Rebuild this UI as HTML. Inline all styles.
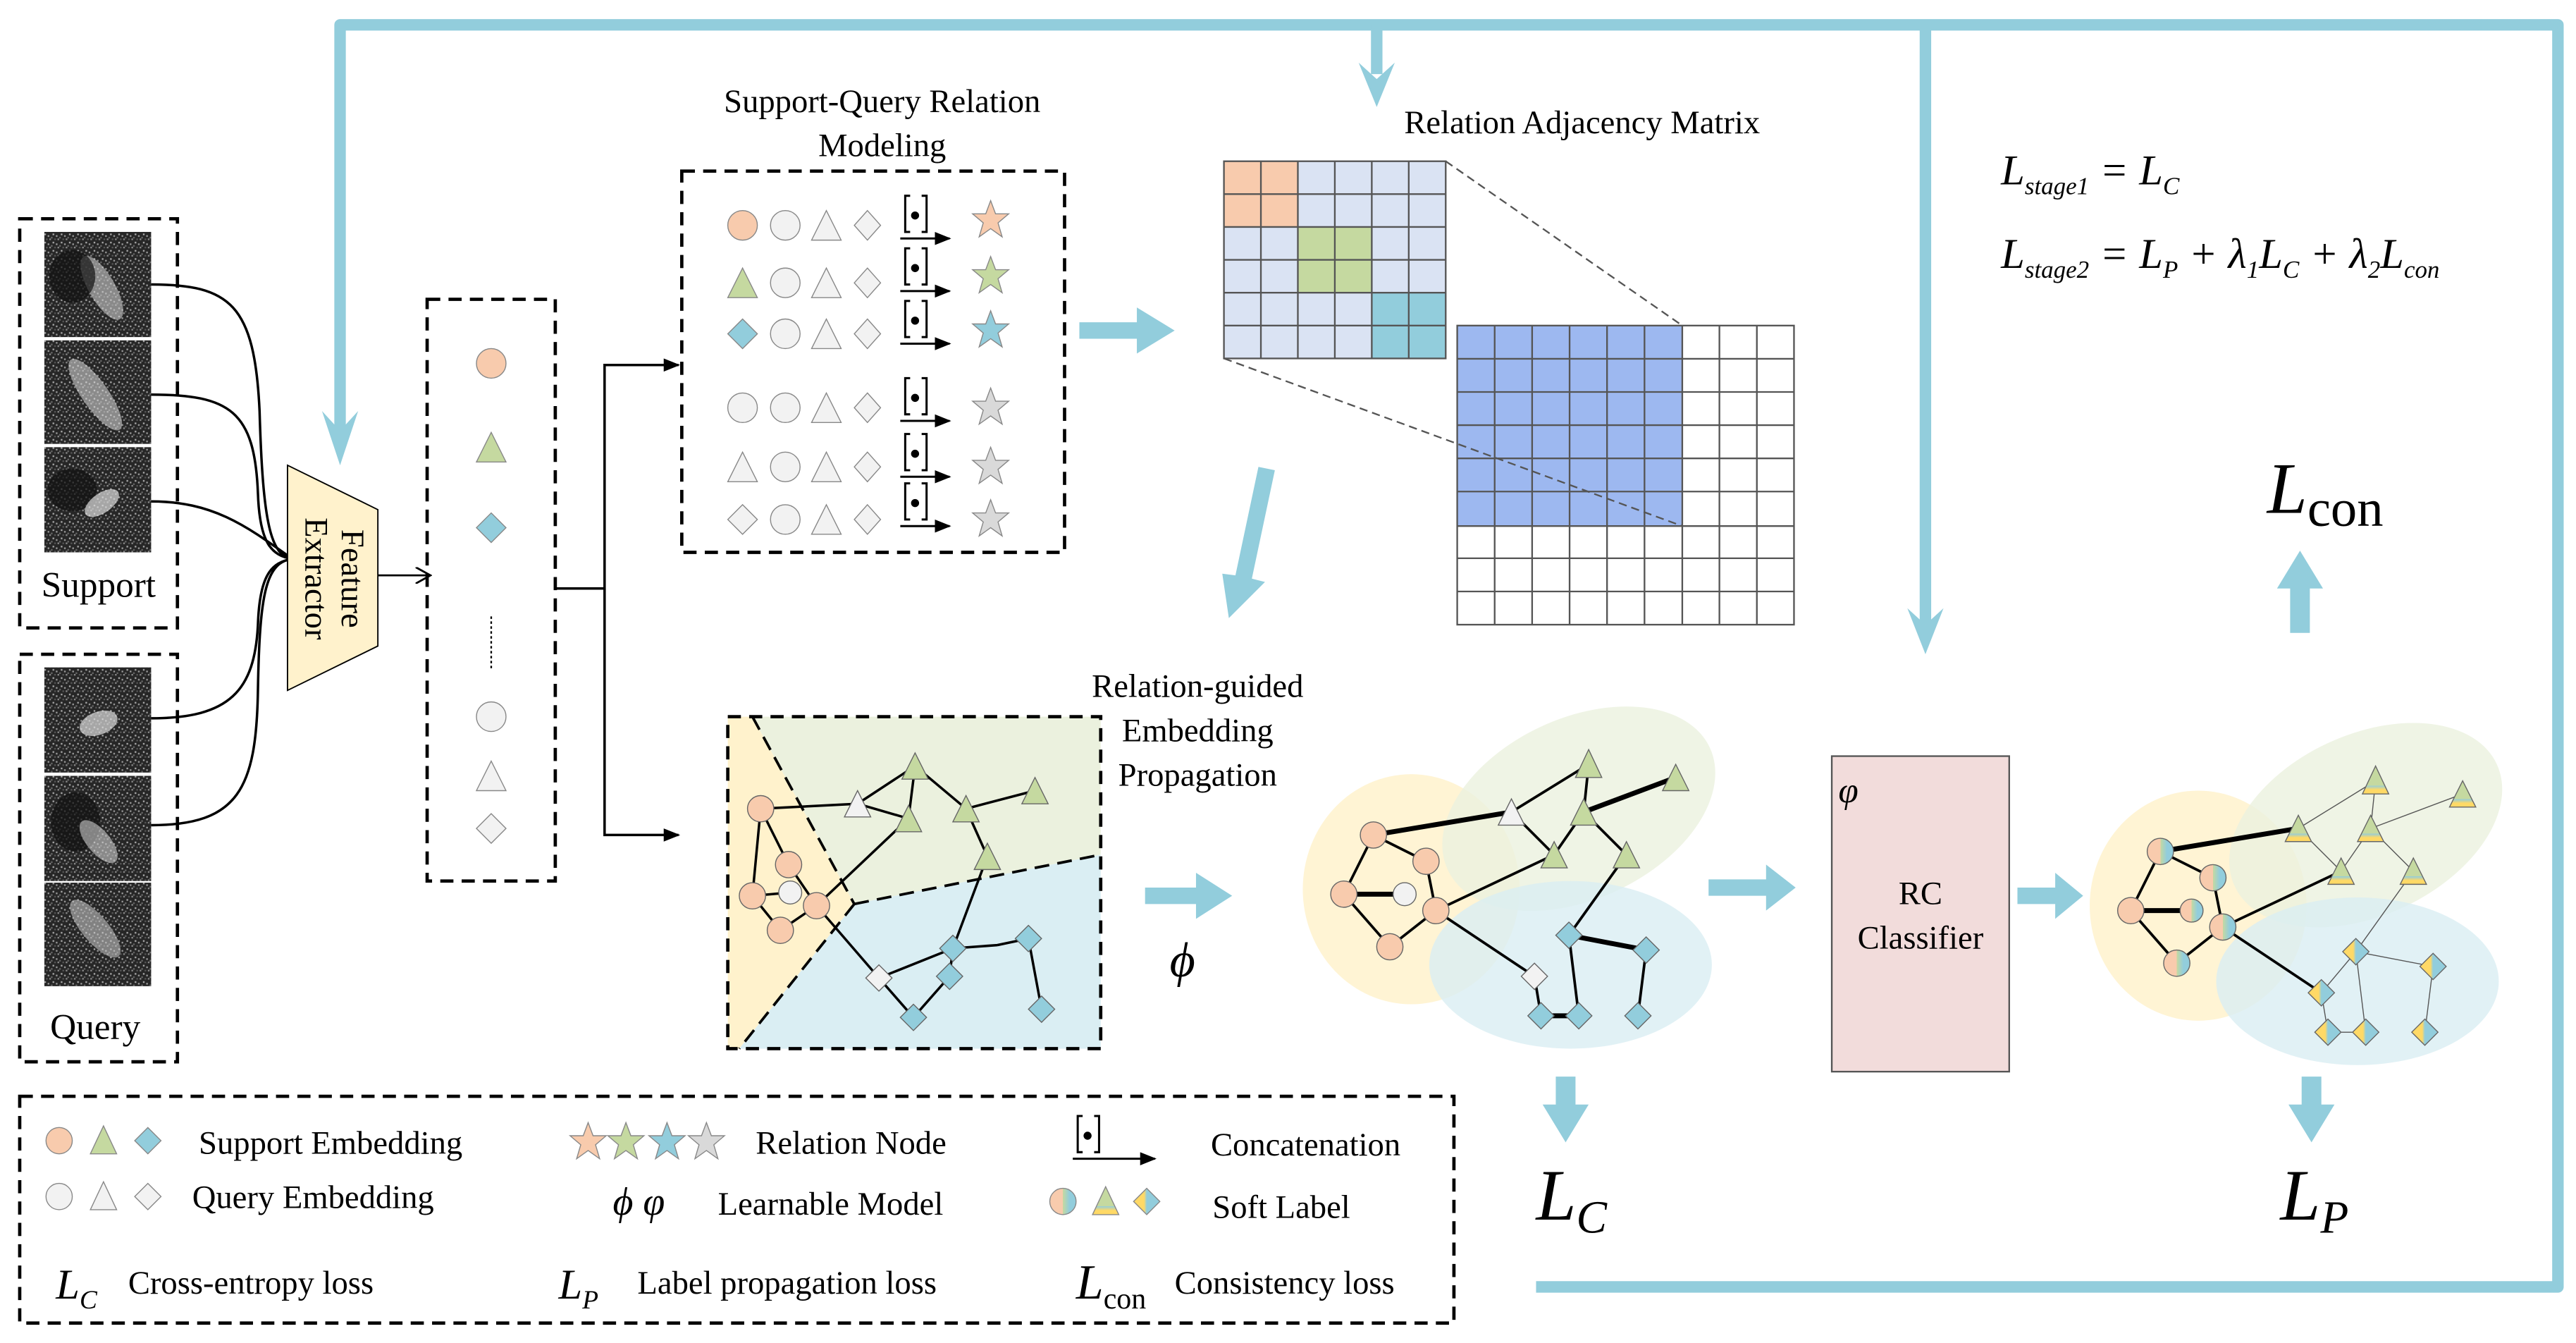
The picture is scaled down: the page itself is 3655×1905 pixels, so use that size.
<!DOCTYPE html>
<html><head><meta charset="utf-8"><style>
html,body{margin:0;padding:0;background:#fff;}
svg{display:block;}
text{font-family:"Liberation Serif",serif;fill:#000;}
</style></head><body>
<svg width="3655" height="1905" viewBox="0 0 1568 817" xmlns="http://www.w3.org/2000/svg">
<defs>
<pattern id="noise" width="5" height="5" patternUnits="userSpaceOnUse"><rect width="5" height="5" fill="#262626"/><rect width="1" height="1" fill="#888"/><rect x="2" y="2" width="1" height="1" fill="#aaa"/><rect x="3" y="0" width="1" height="1" fill="#555"/><rect x="1" y="4" width="1" height="1" fill="#666"/><rect x="4" y="3" width="1" height="1" fill="#999"/></pattern>
<linearGradient id="softO" x1="0" x2="1"><stop offset="0.5" stop-color="#f8cbad"/><stop offset="0.5" stop-color="#c5d9a0"/><stop offset="0.75" stop-color="#92cddc"/></linearGradient>
<linearGradient id="softG" x1="0" y1="0" x2="0" y2="1"><stop offset="0.7" stop-color="#c5d9a0"/><stop offset="0.7" stop-color="#92cddc"/><stop offset="0.85" stop-color="#ffd966"/></linearGradient>
<linearGradient id="softB" x1="0" x2="1"><stop offset="0.4" stop-color="#ffd966"/><stop offset="0.5" stop-color="#92cddc"/></linearGradient>
<polygon id="star" points="0,-12 3,-4 11,-4 4.5,1.5 7,10 0,5 -7,10 -4.5,1.5 -11,-4 -3,-4"/>
<marker id="ah" markerWidth="10" markerHeight="8" refX="9" refY="4" orient="auto" markerUnits="userSpaceOnUse"><path d="M0,0 L10,4 L0,8z" fill="#000"/></marker>
<marker id="ao" markerWidth="10" markerHeight="10" refX="9" refY="5" orient="auto" markerUnits="userSpaceOnUse"><path d="M0,0 L9,5 L0,10" fill="none" stroke="#000" stroke-width="1.2"/></marker>
</defs>

<g stroke="#92cddc" stroke-width="7" fill="none" stroke-linejoin="round">
<path d="M207,262 V15 H1557 V783 H935"/>
<path d="M838,15 V45"/>
<path d="M1172,15 V380"/>
</g>
<g fill="#92cddc">
<path d="M196,250 L207,283 L218,250 L207,262z"/>
<path d="M827,38 L838,65 L849,38 L838,48z"/>
<path d="M1161,370 L1172,398 L1183,370 L1172,380z"/>
<path d="M657,196 H692 V187 L715,201 L692,215 V206 H657z"/>
<path d="M697,540 H728 V531 L750,545 L728,559 V550 H697z"/>
<path d="M1040,535 H1075 V526 L1093,540 L1075,554 V545 H1040z"/>
<path d="M1228,540 H1251 V531 L1268,545 L1251,559 V550 H1228z"/>
<path d="M947,655 H959 V672 H967 L953,695 L939,672 H947z"/>
<path d="M1401,655 H1413 V672 H1421 L1407,695 L1393,672 H1401z"/>
<path d="M1394,385 H1406 V358 H1414 L1400,335 L1386,358 H1394z"/>
<path d="M766,284 L776,286 L762,352 L770,354 L748,376 L744,349 L752,350z"/>
</g>

<rect x="12" y="133" width="96" height="249" fill="none" stroke="#000" stroke-width="2" stroke-dasharray="8,5"/>
<rect x="12" y="398" width="96" height="248" fill="none" stroke="#000" stroke-width="2" stroke-dasharray="8,5"/>
<g>
<rect x="27" y="141" width="65" height="64" fill="url(#noise)"/><ellipse cx="62" cy="175" rx="8" ry="22" fill="#ccc" opacity="0.6" transform="rotate(-30 62 175)"/><ellipse cx="44" cy="168" rx="14" ry="16" fill="#111" opacity="0.7"/>
<rect x="27" y="207" width="65" height="63" fill="url(#noise)"/><ellipse cx="58" cy="240" rx="8" ry="26" fill="#ddd" opacity="0.55" transform="rotate(-35 58 240)"/>
<rect x="27" y="272" width="65" height="64" fill="url(#noise)"/><ellipse cx="44" cy="298" rx="15" ry="13" fill="#111" opacity="0.7"/><ellipse cx="62" cy="306" rx="12" ry="6" fill="#ddd" opacity="0.7" transform="rotate(-35 62 306)"/>
<rect x="27" y="406" width="65" height="64" fill="url(#noise)"/><ellipse cx="60" cy="440" rx="12" ry="7" fill="#ddd" opacity="0.7" transform="rotate(-20 60 440)"/>
<rect x="27" y="472" width="65" height="64" fill="url(#noise)"/><ellipse cx="46" cy="500" rx="15" ry="18" fill="#111" opacity="0.7"/><ellipse cx="60" cy="512" rx="7" ry="16" fill="#ccc" opacity="0.6" transform="rotate(-40 60 512)"/>
<rect x="27" y="537" width="65" height="63" fill="url(#noise)"/><ellipse cx="58" cy="565" rx="8" ry="22" fill="#ccc" opacity="0.55" transform="rotate(-40 58 565)"/>
</g>
<text x="60" y="363" font-size="22" text-anchor="middle">Support</text>
<text x="58" y="632" font-size="22" text-anchor="middle">Query</text>
<g stroke="#000" stroke-width="1.5" fill="none">
<path d="M92,173 C140,173 155,185 158,250 C160,320 165,338 178,340"/>
<path d="M92,240 C140,240 155,250 157,300 C158,330 165,338 178,340"/>
<path d="M92,305 C130,305 150,320 178,340"/>
<path d="M92,437 C140,437 155,420 157,380 C158,350 165,342 178,340"/>
<path d="M92,502 C145,502 156,480 157,420 C158,360 162,342 178,340"/>
</g>
<path d="M175,283 L230,310 L230,393 L175,420z" fill="#fff2cc" stroke="#000" stroke-width="0.8"/>
<text transform="translate(208,352) rotate(90)" font-size="20" text-anchor="middle">Feature</text>
<text transform="translate(186,352) rotate(90)" font-size="20" text-anchor="middle">Extractor</text>
<line x1="230" y1="350" x2="262" y2="350" stroke="#000" stroke-width="1.2" marker-end="url(#ao)"/>

<rect x="260" y="182" width="78" height="354" fill="none" stroke="#000" stroke-width="2" stroke-dasharray="8,5"/>
<circle cx="299" cy="221" r="9" fill="#f8cbad" stroke="#888" stroke-width="0.6"/>
<polygon points="299,263 308,281 290,281" fill="#c5d9a0" stroke="#888" stroke-width="0.6"/>
<polygon points="299,312 308,321 299,330 290,321" fill="#92cddc" stroke="#888" stroke-width="0.6"/>
<line x1="299" y1="375" x2="299" y2="407" stroke="#000" stroke-dasharray="1.5,1.5"/>
<circle cx="299" cy="436" r="9" fill="#f2f2f2" stroke="#888" stroke-width="0.6"/>
<polygon points="299,463 308,481 290,481" fill="#f2f2f2" stroke="#888" stroke-width="0.6"/>
<polygon points="299,495 308,504 299,513 290,504" fill="#f2f2f2" stroke="#888" stroke-width="0.6"/>
<g stroke="#000" stroke-width="1.5" fill="none">
<path d="M338,358 H368 V222 H413" marker-end="url(#ah)"/>
<path d="M368,358 V508 H413" marker-end="url(#ah)"/>
</g>

<text x="537" y="68" font-size="20" text-anchor="middle">Support-Query Relation</text>
<text x="537" y="95" font-size="20" text-anchor="middle">Modeling</text>
<rect x="415" y="104" width="233" height="232" fill="none" stroke="#000" stroke-width="2" stroke-dasharray="8,5"/>
<g stroke="#888" stroke-width="0.6">
<g transform="translate(0,137)"><circle cx="452" cy="0" r="9" fill="#f8cbad"/></g>
<g transform="translate(0,172)"><polygon points="452,-9 461,9 443,9" fill="#c5d9a0"/></g>
<g transform="translate(0,203)"><polygon points="452,-9 461,0 452,9 443,0" fill="#92cddc"/></g>
<g transform="translate(0,248)"><circle cx="452" cy="0" r="9" fill="#f2f2f2"/></g>
<g transform="translate(0,284)"><polygon points="452,-9 461,9 443,9" fill="#f2f2f2"/></g>
<g transform="translate(0,316)"><polygon points="452,-9 461,0 452,9 443,0" fill="#f2f2f2"/></g>
</g>
<g stroke="#888" stroke-width="0.6" fill="#f2f2f2">
<g transform="translate(0,137)"><circle cx="478" cy="0" r="9"/><polygon points="503,-9 512,9 494,9"/><polygon points="528,-9 536,0 528,9 520,0"/></g>
<g transform="translate(0,172)"><circle cx="478" cy="0" r="9"/><polygon points="503,-9 512,9 494,9"/><polygon points="528,-9 536,0 528,9 520,0"/></g>
<g transform="translate(0,203)"><circle cx="478" cy="0" r="9"/><polygon points="503,-9 512,9 494,9"/><polygon points="528,-9 536,0 528,9 520,0"/></g>
<g transform="translate(0,248)"><circle cx="478" cy="0" r="9"/><polygon points="503,-9 512,9 494,9"/><polygon points="528,-9 536,0 528,9 520,0"/></g>
<g transform="translate(0,284)"><circle cx="478" cy="0" r="9"/><polygon points="503,-9 512,9 494,9"/><polygon points="528,-9 536,0 528,9 520,0"/></g>
<g transform="translate(0,316)"><circle cx="478" cy="0" r="9"/><polygon points="503,-9 512,9 494,9"/><polygon points="528,-9 536,0 528,9 520,0"/></g>
</g>
<g stroke="#000" stroke-width="1.3" fill="none">
<g transform="translate(0,135)"><path d="M554,-16 H551 V6 H554 M561,-16 H564 V6 H561"/><circle cx="557" cy="-4" r="1.8" fill="#000"/><line x1="548" y1="10" x2="578" y2="10" marker-end="url(#ah)"/></g>
<g transform="translate(0,167)"><path d="M554,-16 H551 V6 H554 M561,-16 H564 V6 H561"/><circle cx="557" cy="-4" r="1.8" fill="#000"/><line x1="548" y1="10" x2="578" y2="10" marker-end="url(#ah)"/></g>
<g transform="translate(0,199)"><path d="M554,-16 H551 V6 H554 M561,-16 H564 V6 H561"/><circle cx="557" cy="-4" r="1.8" fill="#000"/><line x1="548" y1="10" x2="578" y2="10" marker-end="url(#ah)"/></g>
<g transform="translate(0,246)"><path d="M554,-16 H551 V6 H554 M561,-16 H564 V6 H561"/><circle cx="557" cy="-4" r="1.8" fill="#000"/><line x1="548" y1="10" x2="578" y2="10" marker-end="url(#ah)"/></g>
<g transform="translate(0,280)"><path d="M554,-16 H551 V6 H554 M561,-16 H564 V6 H561"/><circle cx="557" cy="-4" r="1.8" fill="#000"/><line x1="548" y1="10" x2="578" y2="10" marker-end="url(#ah)"/></g>
<g transform="translate(0,310)"><path d="M554,-16 H551 V6 H554 M561,-16 H564 V6 H561"/><circle cx="557" cy="-4" r="1.8" fill="#000"/><line x1="548" y1="10" x2="578" y2="10" marker-end="url(#ah)"/></g>
</g>
<g stroke="#888" stroke-width="0.6">
<use href="#star" x="603" y="134" fill="#f8cbad"/>
<use href="#star" x="603" y="168" fill="#c5d9a0"/>
<use href="#star" x="603" y="201" fill="#92cddc"/>
<use href="#star" x="603" y="248" fill="#d9d9d9"/>
<use href="#star" x="603" y="284" fill="#d9d9d9"/>
<use href="#star" x="603" y="316" fill="#d9d9d9"/>
</g>

<text x="963" y="81" font-size="20" text-anchor="middle">Relation Adjacency Matrix</text>
<rect x="745" y="98" width="135" height="120" fill="#dae3f3"/>
<rect x="745" y="98" width="45" height="40" fill="#f8cbad"/>
<rect x="790" y="138" width="45" height="40" fill="#c5d9a0"/>
<rect x="835" y="178" width="45" height="40" fill="#92cddc"/>
<g stroke="#555" stroke-width="1" fill="none">
<rect x="745" y="98" width="135" height="120"/>
<path d="M767.5,98V218M790,98V218M812.5,98V218M835,98V218M857.5,98V218M745,118H880M745,138H880M745,158H880M745,178H880M745,198H880"/>
</g>
<rect x="887" y="198" width="137" height="122" fill="#9db8f0"/>
<g stroke="#555" stroke-width="1" fill="none">
<rect x="887" y="198" width="205" height="182"/>
<path d="M909.8,198V380M932.6,198V380M955.4,198V380M978.2,198V380M1001,198V380M1024,198V380M1046.6,198V380M1069.4,198V380"/>
<path d="M887,218.2H1092M887,238.4H1092M887,258.6H1092M887,278.8H1092M887,299H1092M887,320H1092M887,339.6H1092M887,359.8H1092"/>
</g>
<g stroke="#555" stroke-width="1" stroke-dasharray="5,3">
<line x1="880" y1="98" x2="1024" y2="198"/>
<line x1="745" y1="218" x2="1024" y2="320"/>
</g>

<g font-style="italic" font-size="26">
<text x="1218" y="112">L<tspan font-size="15" dy="6">stage1</tspan><tspan dy="-6"> = L</tspan><tspan font-size="15" dy="6">C</tspan></text>
<text x="1218" y="163">L<tspan font-size="15" dy="6">stage2</tspan><tspan dy="-6"> = L</tspan><tspan font-size="15" dy="6">P</tspan><tspan dy="-6"> + λ</tspan><tspan font-size="15" dy="6">1</tspan><tspan dy="-6">L</tspan><tspan font-size="15" dy="6">C</tspan><tspan dy="-6"> + λ</tspan><tspan font-size="15" dy="6">2</tspan><tspan dy="-6">L</tspan><tspan font-size="15" dy="6">con</tspan></text>
</g>
<text x="1380" y="312" font-size="44" font-style="italic">L<tspan font-style="normal" font-size="32" dy="8">con</tspan></text>

<text x="729" y="424" font-size="20" text-anchor="middle">Relation-guided</text>
<text x="729" y="451" font-size="20" text-anchor="middle">Embedding</text>
<text x="729" y="478" font-size="20" text-anchor="middle">Propagation</text>

<polygon points="443,436 458,436 520,550 450,638 443,638" fill="#fff2cc"/>
<polygon points="458,436 670,436 670,520 520,550" fill="#ebf1de"/>
<polygon points="520,550 670,520 670,638 450,638" fill="#daeef3"/>
<g stroke="#000" stroke-width="1.6" stroke-dasharray="9,5" fill="none">
<line x1="458" y1="436" x2="520" y2="550"/><line x1="520" y1="550" x2="450" y2="638"/><line x1="520" y1="550" x2="670" y2="520"/>
</g>
<rect x="443" y="436" width="227" height="202" fill="none" stroke="#000" stroke-width="2" stroke-dasharray="8,5"/>
<g stroke="#000" stroke-width="1.5">
<path d="M463,492 L480,526 M463,492 L458,545 M463,492 L522,489 M480,526 L497,551 M458,545 L481,543 M458,545 L475,566 M475,566 L497,551 M497,551 L553,498 M497,551 L535,595 M522,489 L557,466 M522,489 L553,498 M557,466 L588,492 M588,492 L630,481 M588,492 L601,521 M553,498 L557,466 M601,521 L580,577 M580,577 L607,575 M607,575 L626,571 M580,577 L578,594 M578,594 L556,619 M535,595 L556,619 M626,571 L634,614 M580,577 L535,595"/>
</g>
<g stroke="#666" stroke-width="0.6">
<circle cx="463" cy="492" r="8" fill="#f8cbad"/><circle cx="480" cy="526" r="8" fill="#f8cbad"/><circle cx="458" cy="545" r="8" fill="#f8cbad"/><circle cx="475" cy="566" r="8" fill="#f8cbad"/><circle cx="497" cy="551" r="8" fill="#f8cbad"/><circle cx="481" cy="543" r="7" fill="#f2f2f2"/>
<polygon points="557,458 565,474 549,474" fill="#c5d9a0"/><polygon points="630,473 638,489 622,489" fill="#c5d9a0"/><polygon points="553,490 561,506 545,506" fill="#c5d9a0"/><polygon points="588,484 596,500 580,500" fill="#c5d9a0"/><polygon points="601,513 609,529 593,529" fill="#c5d9a0"/><polygon points="522,481 530,497 514,497" fill="#f2f2f2"/>
<polygon points="626,563 634,571 626,579 618,571" fill="#92cddc"/><polygon points="580,569 588,577 580,585 572,577" fill="#92cddc"/><polygon points="578,586 586,594 578,602 570,594" fill="#92cddc"/><polygon points="634,606 642,614 634,622 626,614" fill="#92cddc"/><polygon points="556,611 564,619 556,627 548,619" fill="#92cddc"/><polygon points="535,587 543,595 535,603 527,595" fill="#f2f2f2"/>
</g>
<text x="712" y="594" font-size="30" font-style="italic">ϕ</text>

<g>
<ellipse cx="859" cy="541" rx="66" ry="70" fill="#fff2cc" opacity="0.85"/>
<ellipse cx="961" cy="492" rx="88" ry="55" fill="#ebf1de" opacity="0.8" transform="rotate(-25 961 492)"/>
<ellipse cx="956" cy="587" rx="86" ry="51" fill="#daeef3" opacity="0.8"/>
</g>
<g stroke="#000" stroke-width="1.6">
<path d="M836,508 L868,524 M836,508 L818,544 M868,524 L874,554 M818,544 L846,576 M846,576 L874,554 M874,554 L946,520 M874,554 L934,594 M920,494 L967,465 M920,494 L946,520 M967,465 L964,494 M964,494 L946,520 M964,494 L990,520 M990,520 L955,569 M955,569 L961,618 M934,594 L938,618 M1002,578 L997,618"/>
<path d="M836,508 L920,494 M818,544 L855,544 M964,494 L1020,473 M955,569 L1002,578 M938,618 L961,618" stroke-width="3"/>
</g>
<g stroke="#666" stroke-width="0.6">
<circle cx="836" cy="508" r="8" fill="#f8cbad"/><circle cx="868" cy="524" r="8" fill="#f8cbad"/><circle cx="818" cy="544" r="8" fill="#f8cbad"/><circle cx="874" cy="554" r="8" fill="#f8cbad"/><circle cx="846" cy="576" r="8" fill="#f8cbad"/><circle cx="855" cy="544" r="7" fill="#f2f2f2"/>
<polygon points="967,456 975,473 959,473" fill="#c5d9a0"/><polygon points="1020,465 1028,481 1012,481" fill="#c5d9a0"/><polygon points="964,486 972,502 956,502" fill="#c5d9a0"/><polygon points="946,512 954,528 938,528" fill="#c5d9a0"/><polygon points="990,512 998,528 982,528" fill="#c5d9a0"/><polygon points="920,486 928,502 912,502" fill="#f2f2f2"/>
<polygon points="955,561 963,569 955,577 947,569" fill="#92cddc"/><polygon points="1002,570 1010,578 1002,586 994,578" fill="#92cddc"/><polygon points="938,610 946,618 938,626 930,618" fill="#92cddc"/><polygon points="961,610 969,618 961,626 953,618" fill="#92cddc"/><polygon points="997,610 1005,618 997,626 989,618" fill="#92cddc"/><polygon points="934,586 942,594 934,602 926,594" fill="#f2f2f2"/>
</g>

<rect x="1115" y="460" width="108" height="192" fill="#f2dcdb" stroke="#555" stroke-width="1"/>
<text x="1119" y="488" font-size="22" font-style="italic">φ</text>
<text x="1169" y="550" font-size="20" text-anchor="middle">RC</text>
<text x="1169" y="577" font-size="20" text-anchor="middle">Classifier</text>

<g transform="translate(479,10)">
<ellipse cx="859" cy="541" rx="66" ry="70" fill="#fff2cc" opacity="0.85"/>
<ellipse cx="961" cy="492" rx="88" ry="55" fill="#ebf1de" opacity="0.8" transform="rotate(-25 961 492)"/>
<ellipse cx="956" cy="587" rx="86" ry="51" fill="#daeef3" opacity="0.8"/>
<g stroke="#000" stroke-width="1.6">
<path d="M836,508 L868,524 M836,508 L818,544 M868,524 L874,554 M818,544 L846,576 M846,576 L874,554 M874,554 L946,520 M874,554 L934,594"/>
<path d="M836,508 L920,494 M818,544 L855,544" stroke-width="3"/>
</g>
<g stroke="#555" stroke-width="0.6">
<path d="M920,494 L967,465 M920,494 L946,520 M967,465 L964,494 M964,494 L946,520 M964,494 L990,520 M990,520 L955,569 M955,569 L961,618 M934,594 L938,618 M1002,578 L997,618 M964,494 L1020,473 M955,569 L1002,578 M938,618 L961,618 M934,594 L955,569"/>
</g>
<g stroke="#666" stroke-width="0.6">
<circle cx="836" cy="508" r="8" fill="url(#softO)"/><circle cx="868" cy="524" r="8" fill="url(#softO)"/><circle cx="818" cy="544" r="8" fill="#f8cbad"/><circle cx="874" cy="554" r="8" fill="url(#softO)"/><circle cx="846" cy="576" r="8" fill="url(#softO)"/><circle cx="855" cy="544" r="7" fill="url(#softO)"/>
<polygon points="967,456 975,473 959,473" fill="url(#softG)"/><polygon points="1020,465 1028,481 1012,481" fill="url(#softG)"/><polygon points="964,486 972,502 956,502" fill="url(#softG)"/><polygon points="946,512 954,528 938,528" fill="url(#softG)"/><polygon points="990,512 998,528 982,528" fill="url(#softG)"/><polygon points="920,486 928,502 912,502" fill="url(#softG)"/>
<polygon points="955,561 963,569 955,577 947,569" fill="url(#softB)"/><polygon points="1002,570 1010,578 1002,586 994,578" fill="url(#softB)"/><polygon points="938,610 946,618 938,626 930,618" fill="url(#softB)"/><polygon points="961,610 969,618 961,626 953,618" fill="url(#softB)"/><polygon points="997,610 1005,618 997,626 989,618" fill="url(#softB)"/><polygon points="934,586 942,594 934,602 926,594" fill="url(#softB)"/>
</g>
</g>

<text x="935" y="742" font-size="44" font-style="italic">L<tspan font-size="28" dy="8">C</tspan></text>
<text x="1388" y="742" font-size="44" font-style="italic">L<tspan font-size="28" dy="8">P</tspan></text>

<rect x="12" y="667" width="873" height="138" fill="none" stroke="#000" stroke-width="2" stroke-dasharray="8,5"/>
<g stroke="#888" stroke-width="0.6">
<circle cx="36" cy="694" r="8" fill="#f8cbad"/><polygon points="63,685 71,702 55,702" fill="#c5d9a0"/><polygon points="90,686 98,694 90,702 82,694" fill="#92cddc"/>
<circle cx="36" cy="728" r="8" fill="#f2f2f2"/><polygon points="63,719 71,736 55,736" fill="#f2f2f2"/><polygon points="90,720 98,728 90,736 82,728" fill="#f2f2f2"/>
<use href="#star" x="358" y="695" fill="#f8cbad"/><use href="#star" x="381" y="695" fill="#c5d9a0"/><use href="#star" x="406" y="695" fill="#92cddc"/><use href="#star" x="430" y="695" fill="#d9d9d9"/>
<circle cx="647" cy="731" r="8" fill="url(#softO)"/><polygon points="673,722 681,739 665,739" fill="url(#softG)"/><polygon points="698,723 706,731 698,739 690,731" fill="url(#softB)"/>
</g>
<g stroke="#000" stroke-width="1.3" fill="none" transform="translate(105,695)">
<path d="M554,-16 H551 V6 H554 M561,-16 H564 V6 H561"/><circle cx="557" cy="-4" r="1.8" fill="#000"/><line x1="548" y1="10" x2="598" y2="10" marker-end="url(#ah)"/>
</g>
<g font-size="20">
<text x="121" y="702">Support Embedding</text>
<text x="117" y="735">Query Embedding</text>
<text x="460" y="702">Relation Node</text>
<text x="437" y="739">Learnable Model</text>
<text x="737" y="703">Concatenation</text>
<text x="738" y="741">Soft Label</text>
<text x="78" y="787">Cross-entropy loss</text>
<text x="388" y="787">Label propagation loss</text>
<text x="715" y="787">Consistency loss</text>
<text x="373" y="739" font-style="italic" font-size="24">ϕ φ</text>
<text x="34" y="790" font-style="italic" font-size="26">L<tspan font-size="16" dy="6">C</tspan></text>
<text x="340" y="790" font-style="italic" font-size="26">L<tspan font-size="16" dy="6">P</tspan></text>
<text x="655" y="790" font-style="italic" font-size="30">L<tspan font-style="normal" font-size="18" dy="6">con</tspan></text>
</g>
</svg>
</body></html>
